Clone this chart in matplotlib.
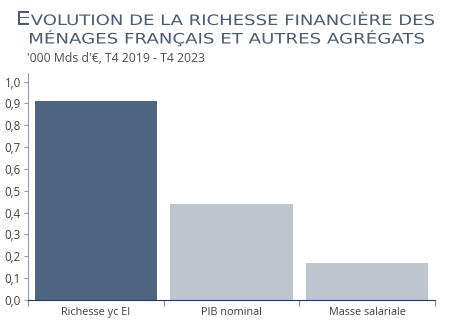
import numpy as np
import matplotlib.pyplot as plt
from matplotlib.textpath import TextPath
from matplotlib.patches import PathPatch
from matplotlib.font_manager import FontProperties
import matplotlib.transforms as mtransforms

categories = ["Richesse yc EI", "PIB nominal", "Masse salariale"]
values = [0.913, 0.44, 0.17]
colors = ["#4f6480", "#bec5ce", "#bec5ce"]
title_1 = [("E", 13.3), ("VOLUTION DE LA RICHESSE FINANCIÈRE DES", 10)]
title_2 = [("MÉNAGES FRANÇAIS ET AUTRES AGRÉGATS", 10)]

W, H = 450, 330
fig = plt.figure(figsize=(W / 100, H / 100), dpi=100)
ax = fig.add_axes([0.062, 0.091, 0.905, 0.688])

x = np.arange(len(categories))
ax.bar(x, values, width=0.9, color=colors)

ax.set_xlim(-0.5, len(categories) - 0.5)
ax.set_ylim(0, 1.04)
yt = np.arange(0, 1.01, 0.1)
ax.set_yticks(yt)
ax.set_yticklabels([f"{v:.1f}".replace(".", ",") for v in yt], family="Open Sans")
ax.set_xticks(x)
ax.set_xticklabels(categories, family="Open Sans")
ax.set_xticks(np.arange(-0.5, len(categories)), minor=True)

ax.tick_params(axis="y", labelsize=8.3, colors="#8ea0b8", labelcolor="#404040", length=3, width=0.8, pad=2)
ax.tick_params(axis="x", which="major", length=0, labelsize=7.8, labelcolor="#404040", pad=5)
ax.tick_params(axis="x", which="minor", length=4, width=0.8, color="#8a8a8a")

for s in ["top", "right"]:
    ax.spines[s].set_visible(False)
ax.spines["left"].set_color("#8ea0b8")
ax.spines["bottom"].set_color("#1f3a5f")


# title in small caps, stretched to the width of the original
fp = FontProperties(family="DejaVu Sans")


def title_line(parts, x0, x1, baseline, cap_px=10.5):
    paths = []
    xoff = 0
    for s, size in parts:
        tp = TextPath((xoff, 0), s, size=size, prop=fp)
        paths.append(tp)
        xoff = tp.get_extents().x1 + 0.8
    minx = min(p.get_extents().x0 for p in paths)
    maxx = max(p.get_extents().x1 for p in paths)
    sx = (x1 - x0) / (maxx - minx)
    sy = cap_px / (0.729 * 10)
    tr = mtransforms.Affine2D().translate(-minx, 0).scale(sx, sy).translate(x0, H - baseline)
    for p in paths:
        fig.add_artist(PathPatch(p, transform=tr, facecolor="#4d5c6c", lw=0))


title_line(title_1, 18, 434, 25)
title_line(title_2, 30, 424, 43.5)

fig.text(27 / W, 1 - 58 / H, "'000 Mds d'€, T4 2019 - T4 2023", ha="left", va="center",
         fontsize=8.8, color="#505050", family="Open Sans")

fig.savefig("out.png", dpi=100)
